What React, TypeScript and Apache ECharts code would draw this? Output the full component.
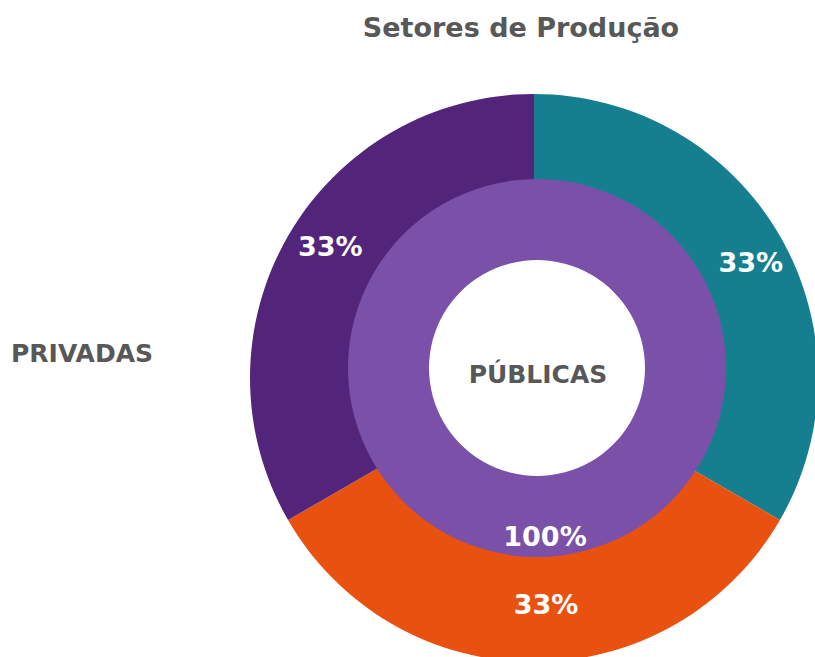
import React, { useEffect, useRef } from "react";
import * as echarts from "echarts";

const titleText = "Setores de Produção";
const outerCategories = ["Setor A", "Setor B", "Setor C"];
const outerValues = [33, 33, 33];
const outerColors = ["#167F8F", "#E85110", "#52247A"];
const innerCategories = ["PÚBLICAS"];
const innerValues = [100];
const innerColors = ["#7B50A8"];
const leftLabel = "PRIVADAS";
const centerLabel = "PÚBLICAS";

const FONT = '"DejaVu Sans"';
const GRAY = "#585858";

// small label nudges (pixels) to match the reference placement
const outerLabelShift = [
  [5, 15],
  [9, -5],
  [2, -1],
];
const innerLabelShift = [[8, 17]];

export default function App() {
  const ref = useRef<HTMLDivElement>(null);
  useEffect(() => {
    if (!ref.current) return;
    const chart = echarts.init(ref.current, undefined, { renderer: "svg" });
    const textEl = (x: number, y: number, text: string, size: number) => ({
      type: "text",
      x,
      y,
      z: 100,
      style: {
        text,
        fill: GRAY,
        font: `bold ${size}px ${FONT}`,
        align: "center",
        verticalAlign: "middle",
        textAlign: "center",
        textVerticalAlign: "middle",
      },
    });
    const labelStyle = {
      show: true,
      position: "inside",
      formatter: (p: any) => `${p.value}%`,
      color: "#ffffff",
      fontFamily: FONT,
      fontWeight: "bold",
      fontSize: 27,
    };
    chart.setOption({
      animation: false,
      backgroundColor: "#ffffff",
      graphic: [
        textEl(521, 27, titleText, 27),
        textEl(82, 353, leftLabel, 25),
        textEl(538, 374, centerLabel, 25),
      ],
      series: [
        {
          type: "pie",
          name: "outer",
          z: 1,
          center: [534, 378],
          radius: [150, 284],
          startAngle: 90,
          clockwise: true,
          silent: true,
          label: { show: false },
          labelLine: { show: false },
          data: outerCategories.map((name, i) => ({
            name,
            value: outerValues[i],
            itemStyle: { color: outerColors[i] },
          })),
        },
        {
          type: "pie",
          name: "inner",
          z: 3,
          center: [537, 368],
          radius: [108, 189],
          startAngle: 90,
          clockwise: true,
          silent: true,
          label: labelStyle,
          labelLayout: (p: any) => ({
            dx: innerLabelShift[p.dataIndex][0],
            dy: innerLabelShift[p.dataIndex][1],
          }),
          labelLine: { show: false },
          data: innerCategories.map((name, i) => ({
            name,
            value: innerValues[i],
            itemStyle: { color: innerColors[i] },
          })),
        },
        {
          type: "pie",
          name: "outerLabels",
          z: 4,
          center: [537, 368],
          radius: [190, 286],
          startAngle: 90,
          clockwise: true,
          silent: true,
          label: labelStyle,
          labelLayout: (p: any) => ({
            dx: outerLabelShift[p.dataIndex][0],
            dy: outerLabelShift[p.dataIndex][1],
          }),
          labelLine: { show: false },
          data: outerCategories.map((name, i) => ({
            name,
            value: outerValues[i],
            itemStyle: { color: "rgba(0,0,0,0)" },
          })),
        },
      ],
    });
    return () => chart.dispose();
  }, []);
  return (
    <div
      ref={ref}
      style={{ position: "fixed", left: 0, top: 0, width: 815, height: 657 }}
    />
  );
}
